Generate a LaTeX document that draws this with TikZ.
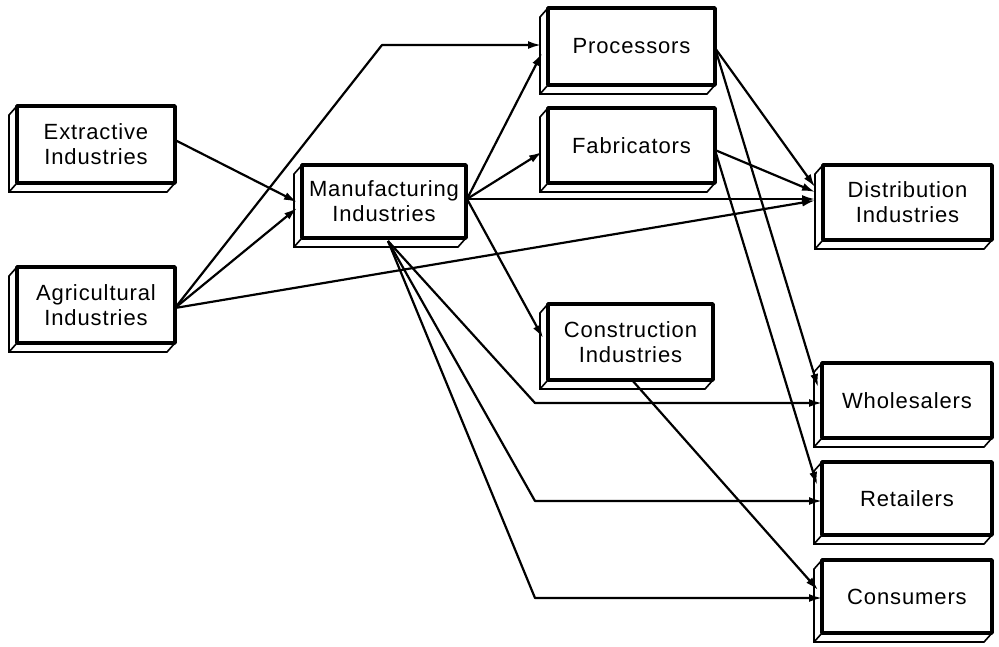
\documentclass[tikz,border=0pt]{standalone}
\usepackage{fontspec}
\setmainfont[LetterSpace=4]{Liberation Sans}
\usepackage{tikz}
\usetikzlibrary{arrows.meta,backgrounds}

\tikzset{
  blk/.style={draw,fill=white,line width=3.2pt,outer sep=0pt,inner sep=2pt,
    align=center,font=\fontsize{22}{25}\selectfont},
  side/.style={line width=1.6pt,fill=white,line join=miter},
  link/.style={->,line width=2.2pt},
}

\begin{document}
\begin{tikzpicture}[>={Latex[length=13pt,width=8pt]},line join=bevel,x=1pt,y=-1pt]
\useasboundingbox (0,0) rectangle (999,646);
%% suppliers
\node (ext) at (96,144.5) [blk, minimum width=158pt, minimum height=77pt] {Extractive\\Industries};
  \node (agr) at (96,305) [blk, minimum width=158pt, minimum height=76pt] {Agricultural\\Industries};
  \node (man) at (384,201.5) [blk, minimum width=164pt, minimum height=73pt] {Manufacturing\\Industries};
  %% middle column
  \node (pro) at (631.5,46.5) [blk, minimum width=167pt, minimum height=77pt] {Processors};
  \node (fab) at (631.5,145.5) [blk, minimum width=167pt, minimum height=75pt] {Fabricators};
  \node (con) at (630.5,342) [blk, minimum width=165pt, minimum height=76pt] {Construction\\Industries};
  %% outlets
  \node (dis) at (907.5,202.5) [blk, minimum width=169pt, minimum height=75pt] {Distribution\\Industries};
  \node (who) at (907,400.5) [blk, minimum width=170pt, minimum height=75pt] {Wholesalers};
  \node (ret) at (907,498.5) [blk, minimum width=170pt, minimum height=73pt] {Retailers};
  \node (cns) at (907,596.5) [blk, minimum width=170pt, minimum height=73pt] {Consumers};
%% depth of the blocks, behind the fronts
\begin{pgfonlayer}{background}
\foreach \b in {ext,agr,man,pro,fab,con,dis,who,ret,cns}
  \draw [side] (\b.north west) -- ++(-8,9) -- ([shift={(-8,9)}]\b.south west)
    -- ([shift={(-8,9)}]\b.south east) -- (\b.south east)
    (\b.south west) -- ++(-8,9);
\end{pgfonlayer}
%% bends
\coordinate (up) at (382,45);
\coordinate (b1) at (535,403);
\coordinate (b2) at (535,501);
\coordinate (b3) at (535,598);
%%
\draw [link] ([shift={(0,-4.5)}]ext.east) -- ([shift={(-5,0.5)}]man.west);
  \draw [link] ([shift={(0,3)}]agr.east) -- ([shift={(-5,6.5)}]man.west);
  \draw [link] ([shift={(0,3)}]agr.east) -- (up) -- ([shift={(-7,-1.5)}]pro.west);
  \draw [link] ([shift={(0,3)}]agr.east) -- ([shift={(-8,-2)}]dis.west);
  %
  \draw [link] ([shift={(1,-2.5)}]man.east) -- ([shift={(-6,6.5)}]pro.west);
  \draw [link] ([shift={(1,-2.5)}]man.east) -- ([shift={(-6,6.5)}]fab.west);
  \draw [link] ([shift={(1,-2.5)}]man.east) -- ([shift={(-8,-3.5)}]dis.west);
  \draw [link] ([shift={(1,-2.5)}]man.east) -- ([shift={(-5,-4)}]con.west);
  \draw [link] ([shift={(4,3)}]man.south) -- (b1) -- ([shift={(0,2.5)}]who.west);
  \draw [link] ([shift={(4,3)}]man.south) -- (b2) -- ([shift={(0,2.5)}]ret.west);
  \draw [link] ([shift={(4,3)}]man.south) -- (b3) -- ([shift={(0,1.5)}]cns.west);
  %
  \draw [link] ([shift={(0,1.5)}]pro.east) -- ([shift={(-8,-15.5)}]dis.west);
  \draw [link] ([shift={(0,1.5)}]pro.east) -- ([shift={(-4,-13.5)}]who.west);
  \draw [link] ([shift={(0,4.5)}]fab.east) -- ([shift={(-8,-10.5)}]dis.west);
  \draw [link] ([shift={(0,4.5)}]fab.east) -- ([shift={(-5,-13.5)}]ret.west);
  \draw [link] ([shift={(1.5,0)}]con.south) -- ([shift={(-4,-6.5)}]cns.west);
%
\end{tikzpicture}
\end{document}
